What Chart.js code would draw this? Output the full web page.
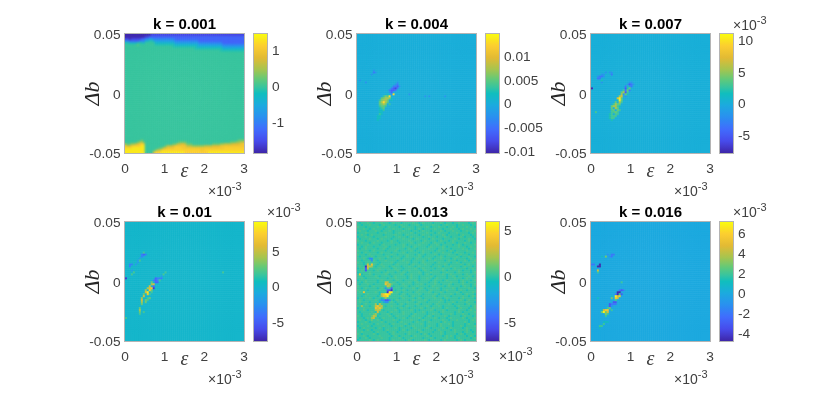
<!DOCTYPE html>
<html><head><meta charset="utf-8">
<style>html,body{margin:0;padding:0;background:#fff;width:830px;height:395px;overflow:hidden}canvas{position:absolute}</style>
<script src="https://cdn.jsdelivr.net/npm/chart.js@4"></script>
</head><body>
<script>
// ---- data ----
const titles = ["k = 0.001","k = 0.004","k = 0.007","k = 0.01","k = 0.013","k = 0.016"];
const epsTicks = [0,0.001,0.002,0.003];
const epsLabels = ["0","1","2","3"];
const dbTicks = [-0.05,0,0.05];
const dbLabels = ["-0.05","0","0.05"];
const cbarMin = [-1.83,-0.0102,-0.00768,-0.00748,-0.00696,-0.00463];
const cbarMax = [1.47,0.0149,0.0112,0.0092,0.00598,0.00727];
const cbarTicks = [
  [-1,0,1],
  [-0.01,-0.005,0,0.005,0.01],
  [-0.005,0,0.005,0.01],
  [-0.005,0,0.005],
  [-0.005,0,0.005],
  [-0.004,-0.002,0,0.002,0.004,0.006]
];
const cbarLabels = [
  ["-1","0","1"],
  ["-0.01","-0.005","0","0.005","0.01"],
  ["-5","0","5","10"],
  ["-5","0","5"],
  ["-5","0","5"],
  ["-4","-2","0","2","4","6"]
];
const backgrounds = [0.0,0.0003,0.0003,0.0002,0.0002,0.0001];
const levels001 = {0:-1.8,1:-1.55,2:-1.25,3:-0.95,4:-0.65,5:-0.35,6:-0.1,a:0.2,b:0.4,c:0.6,d:0.8,e:1.0,f:1.15,g:1.33};
const levels004 = {0:-0.008,1:-0.006,2:-0.004,3:-0.002,4:0.002,5:0.0035,6:0.005,7:0.006,8:0.0075,9:0.013};
const levels007 = {0:-0.0075,1:-0.005,2:-0.0032,3:-0.0015,4:0.002,5:0.003,6:0.004,7:0.0055,8:0.007,9:0.0105};
const levels010 = {0:-0.0065,1:-0.0045,2:-0.003,3:-0.0015,4:0.002,5:0.003,6:0.0042,7:0.0055,8:0.0068,9:0.0085};
const levels013 = {0:-0.0065,1:-0.005,2:-0.003,3:-0.0015,4:-0.0007,5:0.001,6:0.002,7:0.0028,8:0.004,9:0.0055,a:-0.0003,b:0.00055};
const levels016 = {0:-0.0045,1:-0.003,2:-0.0018,3:-0.001,4:0.001,5:0.002,6:0.003,7:0.0045,8:0.0055,9:0.007};
const patches001 = [
 [0,0,[
 "0000000000 0001111111 1111111111 1111111111 1111111111 1111111111",
 "0000000000 1122222222 2222222222 2222222222 2222222222 2222222222",
 "1101111122 3344333333 3333322222 2222222222 2222222222 2222222222",
 "3322222333 5566544444 4444433333 3333333222 2222222222 2222222222",
 "6655556665 .....55555 5555544444 4444444333 3333333332 2222222222",
 "......a... .....66666 6666655555 5555555444 4444444443 3333333333",
 ".......... .......... ....666666 6666665555 5555555554 4444444444",
 ".......... .......... .......... .....66666 6666666665 5555555555",
 ".......... .......... .......... .......... ........66 6666666666"]],
 [0,53,[
 "........a. .......... .......... .......... .......... .......aaa",
 "......abca .......... .......aaa a......... .......... ...aaabbcc",
 "b.abbcdefe .......... ....aaccdd caaa...... ....aaaabb ccccddddee",
 "ecdeffffgg .......... acccdeeeee ecccbbbbbb ccccddddee eeeeeeeeee",
 "fgfggggggg .......aac deeeeffffe eeeeeeeeee eeeeeeeeee ffffffffff",
 "gggggggggg .....accef ffffffffff ffffffffee ffffffffff ffffffffff",
 "gggggggggg ....cfffgg gggggggggg ffffffffff ffgggggggg gggggggggg"]]
];
const patches004 = [
 [9,24,[
 "...........3..","..........32..",".........2213.","........2102..",".......2112...",".......31.....",
 "......4.39....","....5769......","...678874.....","..57887.4.....","..68986.......","..6787.5......",
 "..5665........","..456.........","..445.........","..44..........","..54..........",".44...........",".44...........",".4............"]],
 [6,18,["..3.","..23",".3..",""]],
 [1,23,["3"]],[4,24,["3"]],[26,30,["3"]],[34,31,["3.3"]],[44,31,["3"]]
];
const patches007 = [
 [8,24,[
 "...........33.","..........3123",".........2432.",".........146..","........5262..",".......6715...",
 ".......7364...","......78.3....",".....896......",".....496......","....6.75......","...5766.......",
 "..67754.......","..6.76........","..56.65.......","..5565........",".45.55........",".4555.........",".455..........","..4..........."]],
 [3,19,["....3.33","..33...2","3223....","22......","..4.....","..3....."]],
 [0,27,["0"]],[2,39,["5"]]
];
const patches010 = [
 [6,24,[
 "................","..............4.",".............4..","............3...",".........1222...","........2124....",
 ".......5.11.....",".......67.......","......7.1.......",".....6780.......","....6.85........","....79.4........",
 "...5.84.........","...7............","..6..45.........","..7.54..........","..6.5...........","..5.............",
 "................",".5..............",".6..............",".5.4............",".4.............."]],
 [0,15,[".........4..","........212.","........23..",".......3....","......34....","......3.....","..22.3......","..2.........",
 "...........","...3","....4","...4","","0"]],
 [0,48,["4"]],[49,25,["4"]]
];
const patches013 = [
 // faint speckle read across the panel
 [0,0,[".a...b..a...b...a.b...a.....b..a.b....a...b.a...a..b....a.b."]],
 [0,1,["..a...b....a.b.....a..b...a...b.a.....b...a..b....a..b...a.."]],
 [0,2,["b...a.....b...a.b....a.b.....a.....b.a...b...a..b.a....b...a"]],
 [0,3,["...b..a.b....a....b....a..b..a.b.a.....b...a...b...a.b...b.."]],
 [0,4,[".b...a...b..a...b.a....b...a...a.b...a....b.a...b...a..b...b"]],
 [0,5,["a...b.....a...b...a..b.....b.a.....b...a.b....a...b.....a.b."]],
 [0,6,["..b..a.b.....a.....b...a.b.....a.b...a.....b.a.....a.b...a.."]],
 [0,7,["a...b...a.....b...a..b...a.b.....a..b...a...b..a....b.a...a."]],
 [0,8,[".a....b...a.b....a.....b....a.b.....a.b....a.....b.a....b..a"]],
 [0,9,["b...a.....b....a.b..a.....b.....a.b.....a.b...a.b.....a.b..."]],
 [0,10,["..b...a.b...a....b...a.....b.a...b...a.b....a...b.a...b..a.."]],
 [0,11,["a....b.....a.b.....a...b.a.....b....a...b.a.....a..b.a.....b"]],
 [0,12,["..a.b...a.....b.a......b...a.b.....a.b.....b.a.....b...a.b.."]],
 [0,13,[".a..b.....a..b.a....b...a.b...a.....b...a..b...a.....b..a..b"]],
 [0,14,["b.....a.b.....a....b.a.....b.a...b.....a.b...a.b.a.....b...."]],
 [0,15,["..a.b.....a.b....a.....b.a.....a.b...a.....b....a.b...a...b."]],
 [0,16,["b...a.b......a...b..a....b...a.b..a....b.a....b...a.b...a..."]],
 [0,17,[".a.....b.a.....b.a.....a.b.....b.a.....a..b.a.....b.a...b..a"]],
 [0,18,["...b.a.....b..a.....b.a.....a.b.....b.a...b....a.b.....a.b.."]],
 [0,19,["..a.....b.a...b.....a..b...a.....b.a...b....a.b...a...b.a..b"]],
 [0,20,["b..a.b.....a.....b.a.....b.a...a.b.....a.b.....a..b.a.....b."]],
 [0,21,["...a....b.a.b.....a.b.....a.b.....b...a.....b.a.....b.a.b..."]],
 [0,22,[".b.......a...b..a.b...a...b..a.b.....a...b.a...b....a.b...a."]],
 [0,23,["a..b.a.....b.....a.b...a.....b.a.b.....a...b...a.b.....a..b."]],
 [0,24,["..b.....a.b...a.....b.a...b.....a.b..a.....b.a.....b.a...a.."]],
 [0,25,["a.....b.....a..b...a...b.a.....b.a...b....a..b...a.b.....a.b"]],
 [0,26,["..a...b.a.....b.a.....b.a..b.....a.b.a.....b.a.b.....a.b...."]],
 [0,27,[".b.a.....b.a.....a.b.....a.b...a.....b.a.....a..b.a.....b.a."]],
 [0,28,["..b.a.....b....a...b.....a.b...a...b..a.b....a...b...a.b...."]],
 [0,29,["a...b.....a.b.....a.b..a.....b.a.....a.b...a.b.....a.b...a.b"]],
 [0,30,["..a.b.....a.......b.a.....b.a.b.....a..b.a.....b...a.b.a...."]],
 [0,31,[".a...b..a........b...a.b....a...b.a....b..a...b.a....b...a.b"]],
 [0,32,["b.....a.b.........a.....b.a...b.....a.b.....a.b.....a.b..a.."]],
 [0,33,["..a.b.....a.b.........a.....b.a.b.a.....b.a.....b.a.....b..a"]],
 [0,34,["b....a.....b.......a...b.a.....b...a.b....a..b....a.b..a...."]],
 [0,35,[".b.a.....b.a........b.a.....a.b.....b.a...b.a.....b.a.....b."]],
 [0,36,["...a.b.....a.b.......a.b.a.....b.a.....b.a.....b.a...a.b...a"]],
 [0,37,["..a.b.....a...........b...a.b...a.....b.a...b..a.....b..a.b."]],
 [0,38,["a.....b.a.....b......a.b.....a.b.a.....b...a.b.....a.b.....a"]],
 [0,39,[".b.a.....b.a......a.b.....a.b.....b.a.....b.a.a.....b.a.b..."]],
 [0,40,[".b....a..........b.a.....b...a.b...a.....b..a...b.a....b...a"]],
 [0,41,["..a.b.....a.b.......a.b.a.....b.a.....a.b.....b.a.....a.b..."]],
 [0,42,["b.....a.b.....a..b.....a.b...a.....b.a...b.a.....a.b.....a.b"]],
 [0,43,["a..b.....a..b.......a.b...a.....b.a...b....a.b....a.b...a..b"]],
 [0,44,["...b.a.....b.a.....b.a.....b.a.a.....b.a...b.a.....b...a.b.."]],
 [0,45,[".a.....b.a.....a.b...a.b.....a...b.a.....a.b.....a.b.a.....b"]],
 [0,46,["..a...b....a...b.a.....b...a.b.....a..b...a....b.a...b..a..."]],
 [0,47,["b.a.....b.a.....b.a.b.....a.b.....a.b.a.....b.a.....a.b...a."]],
 [0,48,["...a.b.....a.b.....a...b.a.....b.a.....b.a...a.b.....b.a...b"]],
 [0,49,[".b..a.....b.a.....b..a.....b...a.b...a.....b..a...b.....a.b."]],
 [0,50,["a...b.a.....b.a.....a.b.....a.b...a.b.....a.b...a.....b.a..."]],
 [0,51,["..b.....a.b.....a.b.....b.a.....b.a.....a.b...b.a.....a.b..a"]],
 [0,52,["a....b.a.....b...a....b.a...b.....a.b...a.b.....a...b.a....b"]],
 [0,53,[".a.b.....a.b.a.....b.a.....a.b.....b.a.....b.a.b.....a.b...."]],
 [0,54,["...a.b.a.....a.b.....a.b.a.....b.a.....a.b.....a.b.....b.a.."]],
 [0,55,["..b.....a.b....a..b.a.....b...a.b.....a...b.a....b...a.b..a."]],
 [0,56,["b.a.....b.a.....a.b.....a.b.....a.b.a.....b.a.....a.b.a....."]],
 [0,57,["...b.a.....b.....a.b.a.....a.b.....b.a.....a.b.b.a.....a.b.a"]],
 [0,58,[".a..b.a.....b...a....b.a...b.....a...b.a.....b...a.b.....a.b"]],
 [0,59,["a.....b.a.b.....a.b.....a.b.a.....b.a.....a.b.....a.b.a....."]],
 // streak cells
 [14,30,["77.","8675",".76."]],
 [9,33,[".....2..1","......110","......099","...78998","...6889..","...4.6...",]],
 [9,39,["...22112","..4.322.","6.7......","7867.....","8786.....","676......",".7......"]],
 [5,46,["...56..","..576..","..67...","..5...."]],
 [4,21,[".7.8.","0776.","17...","1....","....."]],
 [1,26,["8"]],[3,35,["8"]],[6,18,["22",".2"]],[2,42,["6"]]
];
const patches016 = [
 [5,16,["...3.22","4.6.3 2"]],
 [0,21,["22..0","...00","...."]],
 [3,24,["7","5"]],
 [15,30,["5"]],
 [10,34,["....212","...00..","..2051.","4.978..","6.87...","..5...."]],
 [9,40,["..11","1222.","6.."]],
 [5,42,["....13","...56","4788.5","6967..","..65","..5"]],
 [4,50,["..444.","..5...","55....","4....."]],
 [3,38,["4"]]
];
const allLevels = [levels001,levels004,levels007,levels010,levels013,levels016];
const allPatches = [patches001,patches004,patches007,patches010,patches013,patches016];
const exponentSpots = [null,null,[14,-8],[14,-9],[14,135],[14,-9]];
const softness = [1.1,0.55,0.55,0.55,0.55,0.55];

// parula colour map stops
const parulaStops = [[62,38,168],[71,75,235],[64,108,253],[42,143,240],[28,170,223],[16,190,190],[60,197,155],[98,201,120],[164,197,80],[226,186,52],[252,206,48],[249,251,14]];
const parulaPos = [0,0.1,0.2,0.3,0.4,0.5,0.56,0.62,0.7,0.8,0.9,1];
function parula(t){
  t=Math.max(0,Math.min(1,t));
  let i=0; while(i<parulaPos.length-2 && t>parulaPos[i+1]) i++;
  const f=(t-parulaPos[i])/(parulaPos[i+1]-parulaPos[i]);
  const c=parulaStops[i].map((a,j)=>Math.round(a+(parulaStops[i+1][j]-a)*f));
  return `rgb(${c[0]},${c[1]},${c[2]})`;
}

// ---- layout ----
const xs=[125,357,591], ys=[34,222], W=119, H=119, N=60;
const cbarGap=129, cbarW=13;
const tickFont={family:'"Liberation Sans"',size:13.7};
const tickColor='#404040', frameColor='#b4b4b4';

function buildCells(p){
  const grid=[];
  for(let r=0;r<N;r++){grid.push(new Array(N).fill(backgrounds[p]));}
  for(const [c0,r0,rows] of allPatches[p]){
    rows.forEach((s,ri)=>{
      const row=s.replace(/ /g,'');
      for(let ci=0;ci<row.length;ci++){
        const v=allLevels[p][row[ci]];
        if(v!==undefined && r0+ri<N && c0+ci<N) grid[r0+ri][c0+ci]=v;
      }
    });
  }
  const pts=[],cols=[];
  for(let r=0;r<N;r++)for(let c=0;c<N;c++){
    pts.push({x:(c+0.5)/N*0.003,y:0.05-(r+0.5)/N*0.1});
    cols.push(parula((grid[r][c]-cbarMin[p])/(cbarMax[p]-cbarMin[p])));
  }
  return {pts,cols};
}
const framePlugin={id:'frame',afterDraw(ch){
  const a=ch.chartArea,c=ch.ctx;c.save();c.strokeStyle=frameColor;c.lineWidth=1;
  c.strokeRect(Math.round(a.left)-0.5,Math.round(a.top)-0.5,Math.round(a.width)+1,Math.round(a.height)+1);c.restore();
}};
function softenPlugin(px){return {id:'soften',afterDatasetsDraw(ch){
  const a=ch.chartArea,c=ch.ctx;c.save();c.beginPath();c.rect(a.left,a.top,a.width,a.height);c.clip();
  c.filter=`blur(${px}px)`;c.drawImage(ch.canvas,a.left,a.top,a.width,a.height,a.left,a.top,a.width,a.height);c.restore();
}};}
function exponent(c,x,y){
  c.save();c.fillStyle=tickColor;c.textBaseline='middle';c.textAlign='left';
  c.font='14px "Liberation Sans"';c.fillText('×10',x,y);
  const w=c.measureText('×10').width;c.font='11px "Liberation Sans"';c.fillText('-3',x+w,y-5);c.restore();
}
function place(canvas,left,top,w,h){canvas.width=w;canvas.height=h;canvas.style.left=left+'px';canvas.style.top=top+'px';canvas.style.width=w+'px';canvas.style.height=h+'px';document.body.appendChild(canvas);}

function fitArea(ch){
  for(let i=0;i<3;i++){
    const a=ch.chartArea,p=ch.options.layout.padding;
    const dw=a.width-W,dh=a.height-H;
    if(Math.abs(dw)<0.01&&Math.abs(dh)<0.01)break;
    p.right+=dw;p.bottom+=dh;ch.update('none');
  }
}
for(let p=0;p<6;p++){
  const X=xs[p%3],Y=ys[p<3?0:1];
  const {pts,cols}=buildCells(p);
  const cv=document.createElement('canvas');
  const L=65,T=25,boxW=L+W+20,boxH=T+H+52;
  place(cv,X-L,Y-T,boxW,boxH);
  const mapChart=new Chart(cv,{type:'scatter',
    data:{datasets:[{data:pts,pointStyle:'rect',pointRadius:1.47,pointBorderWidth:0,borderWidth:0,pointBackgroundColor:cols,pointHoverRadius:1.47,pointHitRadius:0}]},
    plugins:[softenPlugin(softness[p]),framePlugin,{id:'exp',afterDraw(ch){exponent(ch.ctx,L+W-36,T+H+39);}}],
    options:{responsive:false,animation:false,devicePixelRatio:1,events:[],
      layout:{padding:{left:L-48,right:20,top:0,bottom:22}},
      plugins:{legend:{display:false},tooltip:{enabled:false},
        title:{display:true,text:titles[p],fullSize:false,color:'#000',font:{family:'"Liberation Sans"',size:15,weight:'bold'},padding:{top:6.5,bottom:0.5}}},
      scales:{
        x:{type:'linear',min:0,max:0.003,grid:{display:false,drawTicks:false},border:{display:false},
          afterBuildTicks(s){s.ticks=epsTicks.map(v=>({value:v}));},
          afterFit(s){s.height=31;},
          ticks:{font:tickFont,color:tickColor,maxRotation:0,autoSkip:false,padding:8,callback:(v,i)=>epsLabels[i]},
          title:{display:true,text:'ε',color:tickColor,font:{family:'"Liberation Serif"',size:20,style:'italic'},padding:{top:0,bottom:0}}},
        y:{type:'linear',min:-0.05,max:0.05,grid:{display:false,drawTicks:false},border:{display:false},
          afterBuildTicks(s){s.ticks=dbTicks.map(v=>({value:v}));},
          afterFit(s){s.width=48;},
          ticks:{font:tickFont,color:tickColor,autoSkip:false,padding:4.5,labelOffset:1.5,callback:(v,i)=>dbLabels[i]},
          title:{display:true,text:'Δb',color:'#262626',font:{family:'"Liberation Serif"',size:22,style:'italic'},padding:{top:3,bottom:0}}}
      }}});
  fitArea(mapChart);

  // colour bar
  const cb=document.createElement('canvas');
  const CL=2,CT=25,CW=CL+cbarW+62,CH=CT+H+40;
  place(cb,X+cbarGap-CL,Y-CT,CW,CH);
  const spot=exponentSpots[p];
  const barChart=new Chart(cb,{type:'bar',
    data:{labels:[''],datasets:[{data:[[cbarMin[p],cbarMax[p]]],barPercentage:1,categoryPercentage:1,borderWidth:0,
      backgroundColor(ctx){
        const a=ctx.chart.chartArea;if(!a)return '#888';
        const g=ctx.chart.ctx.createLinearGradient(0,a.bottom,0,a.top);
        for(let i=0;i<=40;i++)g.addColorStop(i/40,parula(i/40));return g;}}]},
    plugins:[framePlugin,{id:'exp',afterDraw(ch){if(spot)exponent(ch.ctx,CL+spot[0]-1,CT+spot[1]);}}],
    options:{responsive:false,animation:false,devicePixelRatio:1,events:[],
      layout:{padding:{left:CL,right:CW-CL-cbarW-58,top:CT,bottom:CH-CT-H}},
      plugins:{legend:{display:false},tooltip:{enabled:false},title:{display:false}},
      scales:{
        x:{display:false,grid:{display:false}},
        y:{position:'right',min:cbarMin[p],max:cbarMax[p],grid:{display:false,drawTicks:false},border:{display:false},
          afterBuildTicks(s){s.ticks=cbarTicks[p].map(v=>({value:v}));},
          afterFit(s){s.width=58;},
          ticks:{font:tickFont,color:tickColor,autoSkip:false,padding:5,callback:(v,i)=>cbarLabels[p][i]}}
      }}});
}
</script>
</body></html>
